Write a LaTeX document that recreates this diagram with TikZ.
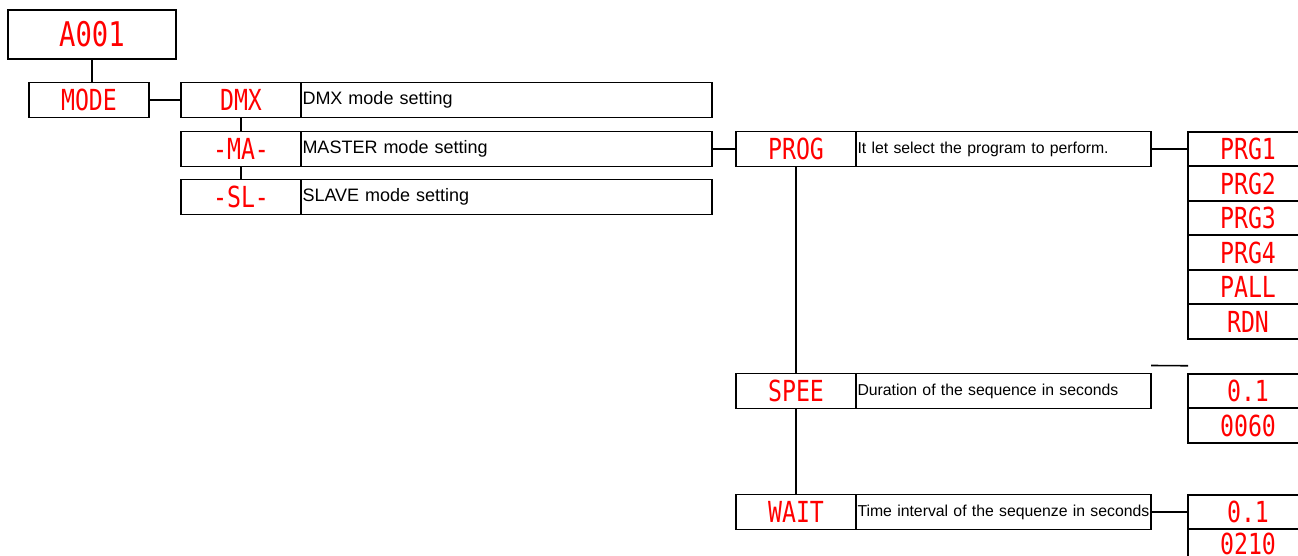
\documentclass[tikz,border=0pt]{standalone}
\usepackage{fontspec}
\setmainfont{Liberation Sans}
\newfontfamily\ledfont[FakeStretch=0.8]{DejaVu Sans Mono}
\usepackage{tikz}
\usetikzlibrary{positioning}
\definecolor{ledred}{RGB}{255,0,0}
\tikzset{
  key/.style={draw, inner sep=0pt, outer sep=0pt, minimum width=120pt, minimum height=35pt, text=ledred, font=\ledfont\fontsize{29}{29}\selectfont},
  val/.style={key, minimum height=34.5pt},
  info/.style={draw, inner xsep=1.5pt, inner ysep=0pt, outer sep=0pt, minimum height=35pt, text width=#1, align=left, font=\fontsize{18}{21}\selectfont},
  small/.style={font=\fontsize{15.8}{19}\selectfont},
}

\begin{document}
\begin{tikzpicture}[x=1pt, y=1pt, line width=1.6pt]
      \useasboundingbox (0,0) rectangle (1298,-556);
      \node[key, minimum width=168pt, minimum height=49pt, font=\ledfont\fontsize{34}{34}\selectfont] (a001) at (92,-34.5) {A001};
      \node[key] (mode) at (89,-100) {MODE};
      \node[key, right=32pt of mode] (dmx) {DMX};
      \node[info=408pt, right=0pt of dmx] (dmxd) {DMX mode setting};
      \node[key, below=14pt of dmx] (ma) {-MA-};
      \node[info=408pt, right=0pt of ma] (mad) {MASTER mode setting};
      \node[key, below=13pt of ma] (sl) {-SL-};
      \node[info=408pt, right=0pt of sl] (sld) {SLAVE mode setting};

      \node[key, right=24pt of mad] (prog) {PROG};
      \node[info=292pt, small, right=0pt of prog] (progd) {It let select the program to perform.};
      \node[val, right=37pt of progd] (prg1) {PRG1};
      \node[val, below=0pt of prg1] (prg2) {PRG2};
      \node[val, below=0pt of prg2] (prg3) {PRG3};
      \node[val, below=0pt of prg3] (prg4) {PRG4};
      \node[val, below=0pt of prg4] (pall) {PALL};
      \node[val, below=0pt of pall] (rdn) {RDN};

      \node[key, below=207pt of prog] (spee) {SPEE};
      \node[info=292pt, small, right=0pt of spee] (speed) {Duration of the sequence in seconds};
      \node[val, right=37pt of speed] (sp1) {0.1};
      \node[val, below=0pt of sp1] (sp2) {0060};

      \node[key, below=86pt of spee] (wait) {WAIT};
      \node[info=292pt, small, right=0pt of wait] (waitd) {Time interval of the sequenze in seconds};
      \node[val, right=37pt of waitd] (wt1) {0.1};
      \node[val, text depth=6pt, below=0pt of wt1] (wt2) {0210};

      \coordinate (gapl) at ([yshift=8pt]speed.north east);
      \coordinate (gapr) at ([yshift=8pt]sp1.north west);

      \draw (a001.south) -- (a001.south |- mode.north);
      \draw (mode) -- (dmx);
      \draw (dmx) -- (ma);
      \draw (ma) -- (sl);
      \draw (mad) -- (prog);
      \draw (progd) -- (prg1);
      \draw (prog) -- (spee);
      \draw (spee) -- (wait);
      \draw (waitd) -- (wt1);
      \draw (gapl) -- (gapr);
    \end{tikzpicture}
\end{document}
